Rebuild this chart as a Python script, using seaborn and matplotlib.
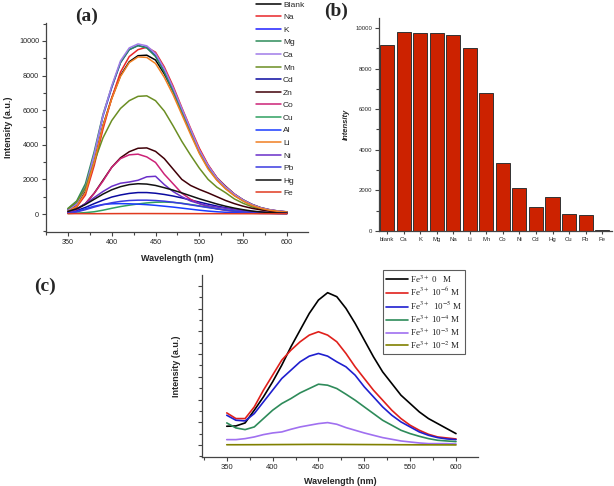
import numpy as np
import pandas as pd
import matplotlib
matplotlib.use("Agg")
import matplotlib.pyplot as plt
from matplotlib.ticker import MultipleLocator
import seaborn as sns

sns.set_style("ticks")
plt.rcParams['font.family'] = ['Liberation Sans', 'DejaVu Sans']
plt.rcParams['mathtext.fontset'] = 'stix'

# ---------------- data: panel (a) ----------------
wl = [350, 360, 370, 380, 390, 400, 410, 420, 430, 440, 450, 460, 470,
      480, 490, 500, 510, 520, 530, 540, 550, 560, 570, 580, 590, 600]

ions_a = ["Blank", "Na", "K", "Mg", "Ca", "Mn", "Cd", "Zn", "Co", "Cu",
          "Al", "Li", "Ni", "Pb", "Hg", "Fe"]

blank = [200, 500, 1300, 3000, 5100, 6700, 8000, 8800, 9150, 9180, 8900, 8100, 7100,
         5950, 4800, 3700, 2800, 2100, 1600, 1150, 820, 560, 370, 250, 170, 120]
na = [150, 400, 1100, 2800, 4900, 6700, 8200, 9100, 9500, 9640, 9350, 8500, 7400,
      6150, 4950, 3800, 2850, 2100, 1580, 1150, 800, 540, 350, 240, 170, 120]
k = [250, 620, 1550, 3450, 5650, 7300, 8750, 9500, 9740, 9620, 9150, 8250, 7150,
     5950, 4750, 3600, 2700, 2000, 1500, 1100, 780, 520, 340, 230, 160, 120]
mg = [320, 750, 1750, 3600, 5750, 7350, 8750, 9500, 9730, 9600, 9100, 8200, 7100,
      5900, 4700, 3550, 2650, 1980, 1480, 1080, 760, 510, 330, 220, 150, 110]
ca = [200, 580, 1500, 3450, 5700, 7400, 8850, 9600, 9830, 9720, 9280, 8400, 7300,
      6100, 4900, 3700, 2800, 2080, 1560, 1140, 810, 550, 360, 250, 180, 130]
mn = [300, 700, 1500, 3000, 4400, 5400, 6100, 6550, 6800, 6830, 6550, 5950, 5100,
      4200, 3400, 2650, 2000, 1550, 1230, 870, 620, 420, 280, 190, 140, 110]
cd = [100, 200, 380, 600, 800, 980, 1100, 1190, 1240, 1240, 1200, 1130, 1040,
      930, 810, 690, 570, 460, 360, 270, 200, 140, 100, 70, 50, 40]
zn = [120, 280, 600, 1200, 1950, 2700, 3250, 3600, 3800, 3820, 3620, 3200, 2600,
      2000, 1650, 1420, 1220, 1000, 780, 600, 450, 330, 240, 160, 110, 80]
co = [80, 250, 600, 1200, 1900, 2700, 3200, 3420, 3460, 3300, 2980, 2300, 1750,
      1200, 850, 600, 420, 300, 210, 150, 110, 80, 60, 50, 40, 30]
cu = [30, 50, 80, 130, 220, 330, 430, 510, 580, 640, 680, 690, 670,
      620, 550, 470, 390, 310, 240, 180, 130, 90, 65, 45, 35, 30]
al = [50, 150, 300, 450, 550, 590, 600, 590, 570, 540, 500, 450, 400,
      340, 280, 220, 170, 130, 100, 80, 60, 45, 35, 30, 25, 20]
li = [150, 450, 1250, 3000, 5100, 6650, 7950, 8750, 9080, 9050, 8700, 7900, 6900,
      5750, 4600, 3500, 2600, 1950, 1450, 1050, 750, 500, 330, 220, 150, 110]
ni = [100, 300, 600, 950, 1300, 1600, 1780, 1850, 1950, 2150, 2180, 1700, 1300,
      1000, 750, 600, 480, 400, 330, 260, 200, 150, 110, 80, 60, 50]
pb = [50, 120, 250, 400, 540, 650, 730, 780, 800, 800, 780, 740, 680,
      610, 530, 450, 370, 300, 230, 170, 120, 85, 60, 45, 35, 30]
hg = [150, 300, 550, 850, 1150, 1400, 1580, 1700, 1750, 1730, 1650, 1520, 1380,
      1220, 1050, 880, 730, 580, 450, 340, 250, 170, 120, 80, 60, 50]
fe = [20, 22, 20, 18, 20, 22, 24, 25, 26, 26, 25, 24, 23,
      22, 21, 20, 20, 19, 18, 18, 17, 17, 16, 16, 15, 15]

series_a = [blank, na, k, mg, ca, mn, cd, zn, co, cu, al, li, ni, pb, hg, fe]
colors_a = ["#000000", "#E8262A", "#1F1FFF", "#2E8B5A", "#A07CE8", "#6B8E23",
            "#0A0AA0", "#400008", "#CC2277", "#2FA060", "#1A3CFF", "#F07F22",
            "#6A2FC9", "#3A3AE0", "#111111", "#E03A20"]

# ---------------- data: panel (b) ----------------
ions_b = ["blank", "Ca", "K", "Mg", "Na", "Li", "Mn", "Co", "Ni", "Cd", "Hg",
          "Cu", "Pb", "Fe"]
intens_b = [9160, 9786, 9736, 9736, 9637, 9011, 6787, 3344, 2125, 1186, 1680,
            824, 774, 40]

# ---------------- data: panel (c) ----------------
labels_c = [r"Fe$^{3+}$ 0   M", r"Fe$^{3+}$ 10$^{-6}$ M", r"Fe$^{3+}$  10$^{-5}$ M",
            r"Fe$^{3+}$ 10$^{-4}$ M", r"Fe$^{3+}$ 10$^{-3}$ M", r"Fe$^{3+}$ 10$^{-2}$ M"]
c0 = [824, 838, 970, 1530, 2118, 2780, 3515, 4324, 5060, 5794, 6382, 6706, 6530,
      6015, 5353, 4618, 3882, 3220, 2706, 2191, 1824, 1456, 1162, 941, 720, 500]
c6 = [1412, 1162, 1162, 1676, 2412, 3074, 3735, 4176, 4544, 4838, 4985, 4838, 4544,
      4029, 3441, 2926, 2412, 1971, 1529, 1162, 868, 647, 470, 353, 309, 265]
c5 = [1309, 1088, 1059, 1382, 1897, 2412, 2926, 3294, 3662, 3912, 4029, 3912, 3662,
      3441, 3074, 2559, 2118, 1676, 1309, 1015, 794, 574, 426, 324, 265, 235]
c4 = [970, 750, 676, 794, 1162, 1529, 1824, 2044, 2294, 2485, 2676, 2632, 2485,
      2235, 1971, 1676, 1382, 1088, 868, 647, 500, 382, 279, 206, 176, 147]
c3 = [235, 235, 279, 353, 456, 529, 574, 691, 794, 868, 941, 985, 912,
      765, 647, 529, 426, 324, 250, 176, 132, 88, 59, 59, 59, 44]
c2 = [10, 10, 11, 12, 14, 16, 18, 20, 22, 24, 25, 25, 24,
      22, 20, 18, 16, 14, 12, 10, 8, 6, 5, 4, 3, 2]
series_c = [c0, c6, c5, c4, c3, c2]
colors_c = ["#000000", "#E0201B", "#1F1FCF", "#2E8B5A", "#A070F0", "#808000"]

# ---------------- figure ----------------
W, H = 614, 486
fig = plt.figure(figsize=(W / 100, H / 100), dpi=100)

def box(l, t, r, b):
    return [l / W, 1 - b / H, (r - l) / W, (b - t) / H]

spine_col = "#444444"

def style_axes(ax, tick_size):
    for s in ["top", "right"]:
        ax.spines[s].set_visible(False)
    for s in ["left", "bottom"]:
        ax.spines[s].set_color(spine_col)
        ax.spines[s].set_linewidth(0.9)
    ax.tick_params(which="both", direction="out", color=spine_col, width=0.8,
                   labelsize=tick_size, pad=2)
    ax.tick_params(which="major", length=3)
    ax.tick_params(which="minor", length=2)

# panel (a)
axa = fig.add_axes(box(46, 23, 308, 232))
dfa = pd.DataFrame({
    "wl": wl * len(ions_a),
    "I": sum(series_a, []),
    "ion": [n for n in ions_a for _ in wl],
})
sns.lineplot(data=dfa, x="wl", y="I", hue="ion", hue_order=ions_a,
             palette=dict(zip(ions_a, colors_a)), linewidth=1.1, ax=axa,
             legend=True)
axa.set_xlim(325, 624)
axa.set_ylim(-1040, 11040)
axa.xaxis.set_major_locator(MultipleLocator(50))
axa.xaxis.set_minor_locator(MultipleLocator(25))
axa.yaxis.set_major_locator(MultipleLocator(2000))
axa.yaxis.set_minor_locator(MultipleLocator(1000))
style_axes(axa, 5.2)
axa.set_xlabel("Wavelength (nm)", fontsize=6.5, fontweight="bold", labelpad=6)
axa.set_ylabel("Intensity (a.u.)", fontsize=6.5, fontweight="bold", labelpad=4)
h, l = axa.get_legend_handles_labels()
axa.legend(h, l, loc="upper left", bbox_to_anchor=(255 / W, 1 - 0 / H),
           bbox_transform=fig.transFigure, frameon=False, fontsize=6,
           handlelength=3.0, handletextpad=0.25, labelspacing=0.57,
           borderpad=0.1, borderaxespad=0)
fig.text(87 / W, 1 - 16 / H, "(a)", fontsize=14, fontweight="bold",
         family="Liberation Serif", ha="center", va="center")

# panel (b)
axb = fig.add_axes(box(379, 18, 612, 231))
dfb = pd.DataFrame({"ion": ions_b, "I": intens_b})
sns.barplot(data=dfb, x="ion", y="I", order=ions_b, color="#CC2200",
            edgecolor="#333333", linewidth=0.7, width=0.85, saturation=1, ax=axb)
axb.set_xlim(-0.5, 13.6)
axb.set_ylim(0, 10490)
axb.yaxis.set_major_locator(MultipleLocator(2000))
axb.yaxis.set_minor_locator(MultipleLocator(1000))
style_axes(axb, 4.3)
axb.tick_params(axis="x", length=2)
axb.set_xlabel("")
axb.set_ylabel("Intensity", fontsize=5.5, fontweight="bold", style="italic",
               labelpad=4)
fig.text(336 / W, 1 - 11 / H, "(b)", fontsize=14, fontweight="bold",
         family="Liberation Serif", ha="center", va="center")

# panel (c)
axc = fig.add_axes(box(202, 275, 478, 457))
dfc = pd.DataFrame({
    "wl": wl * len(labels_c),
    "I": sum(series_c, []),
    "conc": [n for n in labels_c for _ in wl],
})
sns.lineplot(data=dfc, x="wl", y="I", hue="conc", hue_order=labels_c,
             palette=dict(zip(labels_c, colors_c)), linewidth=1.2, ax=axc,
             legend=True)
axc.set_xlim(323, 624)
axc.set_ylim(-530, 7485)
axc.xaxis.set_major_locator(MultipleLocator(50))
axc.xaxis.set_minor_locator(MultipleLocator(25))
axc.yaxis.set_major_locator(MultipleLocator(1000))
axc.yaxis.set_minor_locator(MultipleLocator(500))
style_axes(axc, 5.5)
axc.set_yticklabels([])
axc.set_xlabel("Wavelength (nm)", fontsize=6.5, fontweight="bold", labelpad=4)
axc.set_ylabel("Intensity (a.u.)", fontsize=6.5, fontweight="bold", labelpad=10)
h, l = axc.get_legend_handles_labels()
leg = axc.legend(h, l, loc="upper left", bbox_to_anchor=(383 / W, 1 - 270 / H),
                 bbox_transform=fig.transFigure, frameon=True, fancybox=False,
                 prop={"family": "Liberation Serif", "size": 6.5},
                 handlelength=2.4, handletextpad=0.25, labelspacing=0.17,
                 borderpad=0.35, borderaxespad=0)
leg.get_frame().set_edgecolor("#333333")
leg.get_frame().set_linewidth(0.8)
fig.text(45 / W, 1 - 286 / H, "(c)", fontsize=14, fontweight="bold",
         family="Liberation Serif", ha="center", va="center")

fig.savefig("out.png", dpi=100)
